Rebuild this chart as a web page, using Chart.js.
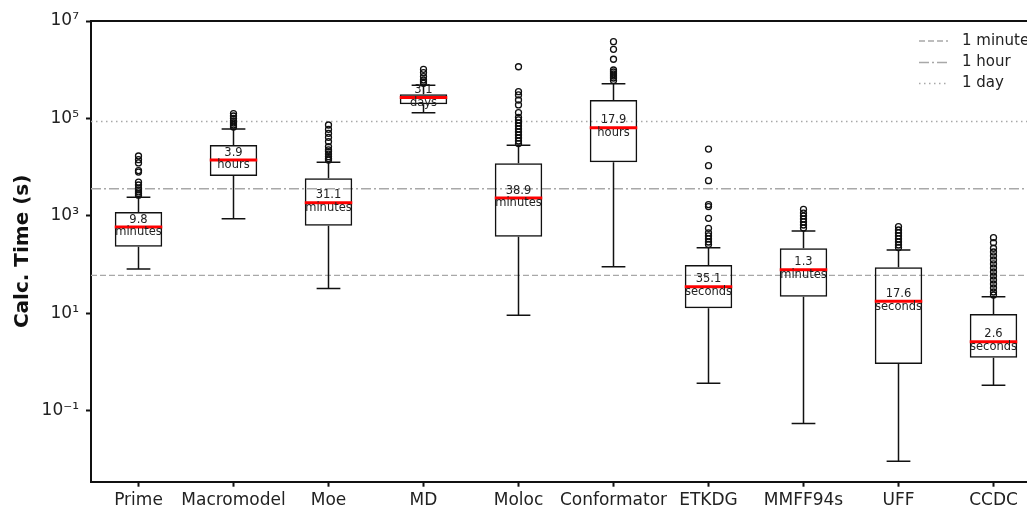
<!DOCTYPE html>
<html>
<head>
<meta charset="utf-8">
<script src="https://cdn.jsdelivr.net/npm/chart.js@4.4.0/dist/chart.umd.min.js"></script>
<style>
  html, body { margin: 0; padding: 0; background: #fff; overflow: hidden; }
  #wrap { position: relative; width: 1060px; height: 508px; }
</style>
</head>
<body>
<div id="wrap"><canvas id="myChart"></canvas></div>
<script>
// box plot data (seconds)
const methods = ['Prime', 'Macromodel', 'Moe', 'MD', 'Moloc', 'Conformator', 'ETKDG', 'MMFF94s', 'UFF', 'CCDC']
const q1 = [232, 6560, 627, 195000, 372, 12550, 12.6, 21.8, 0.905, 1.22]
const q3 = [1197, 28400, 5890, 312000, 11970, 239000, 97.7, 215, 87.6, 9.64]
const medians = [588, 14040, 1866, 267840, 2334, 64440, 35.1, 78, 17.6, 2.6]
const whiskerLow = [81, 873, 32.4, 131000, 9.06, 90, 0.364, 0.0548, 0.0092, 0.331]
const whiskerHigh = [2400, 60600, 12550, 478000, 28000, 516000, 221, 488, 199, 21.8]
const medianValue = ['9.8', '3.9', '31.1', '3.1', '38.9', '17.9', '35.1', '1.3', '17.6', '2.6']
const medianUnit = ['minutes', 'hours', 'minutes', 'days', 'minutes', 'hours', 'seconds', 'minutes', 'seconds', 'seconds']

const primeOut = [16900, 14200, 12200, 8500, 7900, 4900, 4300, 3700, 3400, 3100, 2850, 2650]
const macroOut = [126000, 112000, 99600, 88500, 80500, 73200, 66700]
const moeOut = [73300, 59800, 49500, 41000, 33300, 26300, 22500, 20700, 18500, 16400, 15000, 14000]
const mdOut = [1020000, 869000, 719000, 615000, 560000, 526000]
const molocOut = [1150000, 354000, 303000, 239000, 189000, 131000, 105000, 92900, 80600, 69900, 60600, 52600, 45700, 39600, 34400, 30500]
const conformatorOut = [3760000, 2620000, 1640000, 986000, 897000, 816000, 743000, 676000, 600000]
const etkdgOut = [23500, 10700, 5260, 1700, 1550, 890, 553, 445, 386, 335, 290, 258]
const mmffOut = [1360, 1140, 993, 861, 748, 649, 563]
const uffOut = [598, 512, 445, 386, 335, 290, 252, 224]
const ccdcOut = [356, 281, 216, 181, 150, 124, 103, 85, 70.3, 58.2, 48.2, 39.9, 33.0, 27.3, 23.7]
const outliers = [primeOut, macroOut, moeOut, mdOut, molocOut, conformatorOut, etkdgOut, mmffOut, uffOut, ccdcOut]

const refLabels = ['1 minute', '1 hour', '1 day']
const refValues = [60, 3600, 86400]
const refDash = [[6, 3], [10, 3, 2, 3], [1.5, 3.5]]

const yTicks = [1e-1, 1e1, 1e3, 1e5, 1e7]
const yTickLabels = ['10⁻¹', '10¹', '10³', '10⁵', '10⁷']

Chart.defaults.font.family = 'DejaVu Sans'
Chart.defaults.color = '#222'

const boxParts = {
  id: 'boxParts',
  afterDatasetsDraw(chart) {
    const { ctx, scales: { x, y } } = chart
    const capHalf = x.getPixelForValue(1.125) - x.getPixelForValue(1)
    const boxHalf = x.getPixelForValue(1.25) - x.getPixelForValue(1)
    ctx.save()
    methods.forEach((m, i) => {
      const cx = x.getPixelForValue(i + 1)
      // whiskers and caps
      ctx.strokeStyle = '#111'
      ctx.lineWidth = 1.5
      ctx.beginPath()
      ctx.moveTo(cx, y.getPixelForValue(q3[i]))
      ctx.lineTo(cx, y.getPixelForValue(whiskerHigh[i]))
      ctx.moveTo(cx, y.getPixelForValue(q1[i]))
      ctx.lineTo(cx, y.getPixelForValue(whiskerLow[i]))
      const yh = y.getPixelForValue(whiskerHigh[i])
      const yl = y.getPixelForValue(whiskerLow[i])
      ctx.moveTo(cx - capHalf, yh)
      ctx.lineTo(cx + capHalf, yh)
      ctx.moveTo(cx - capHalf, yl)
      ctx.lineTo(cx + capHalf, yl)
      ctx.stroke()
      // median
      const ym = y.getPixelForValue(medians[i])
      ctx.strokeStyle = '#ff0000'
      ctx.lineWidth = 3
      ctx.beginPath()
      ctx.moveTo(cx - boxHalf, ym)
      ctx.lineTo(cx + boxHalf, ym)
      ctx.stroke()
      // median label
      ctx.fillStyle = '#222'
      ctx.font = '11.5px "DejaVu Sans"'
      ctx.textAlign = 'center'
      ctx.textBaseline = 'alphabetic'
      ctx.fillText(medianValue[i], cx, ym - 4.3)
      ctx.fillText(medianUnit[i], cx, ym + 8.4)
    })
    ctx.restore()
  },
  afterDraw(chart) {
    const { ctx, chartArea } = chart
    ctx.save()
    // top and right spines
    ctx.strokeStyle = '#111'
    ctx.lineWidth = 2
    ctx.beginPath()
    ctx.moveTo(chartArea.left - 1, chartArea.top)
    ctx.lineTo(chartArea.right, chartArea.top)
    ctx.lineTo(chartArea.right, chartArea.bottom)
    ctx.stroke()
    // legend for the reference lines
    const rows = [41, 62.5, 83.5]
    refLabels.forEach((lab, i) => {
      const ds = chart.data.datasets[2 + i]
      ctx.strokeStyle = ds.borderColor
      ctx.lineWidth = ds.borderWidth
      ctx.setLineDash(ds.borderDash)
      ctx.beginPath()
      ctx.moveTo(919, rows[i])
      ctx.lineTo(948, rows[i])
      ctx.stroke()
      ctx.setLineDash([])
      ctx.fillStyle = '#222'
      ctx.font = '15px "DejaVu Sans"'
      ctx.textAlign = 'left'
      ctx.textBaseline = 'middle'
      ctx.fillText(lab, 962, rows[i])
    })
    ctx.restore()
  }
}

const outlierPoints = []
outliers.forEach((list, i) => list.forEach(v => outlierPoints.push({ x: i + 1, y: v })))

const refDatasets = refLabels.map((lab, i) => ({
  type: 'line',
  label: lab,
  data: [{ x: 0.5, y: refValues[i] }, { x: 10.5, y: refValues[i] }],
  borderColor: '#a8a8a8',
  borderWidth: 1.4,
  borderDash: refDash[i],
  pointRadius: 0,
  order: 3
}))

const config = {
  type: 'bar',
  data: {
    datasets: [
      {
        type: 'bar',
        label: 'box',
        data: methods.map((m, i) => ({ x: i + 1, y: [q1[i], q3[i]] })),
        backgroundColor: 'rgba(0,0,0,0)',
        borderColor: '#111',
        borderWidth: 1.5,
        borderSkipped: false,
        barPercentage: 1,
        categoryPercentage: 0.5,
        order: 1
      },
      {
        type: 'scatter',
        label: 'outliers',
        data: outlierPoints,
        pointStyle: 'circle',
        pointRadius: 3,
        pointBorderWidth: 1.3,
        pointBackgroundColor: 'rgba(255,255,255,0)',
        pointBorderColor: '#111',
        order: 0
      },
      ...refDatasets
    ]
  },
  options: {
    responsive: true,
    maintainAspectRatio: false,
    animation: false,
    layout: { padding: { top: 21, right: 19, bottom: 0, left: 0 } },
    plugins: { legend: { display: false }, tooltip: { enabled: false } },
    scales: {
      x: {
        type: 'linear',
        min: 0.5,
        max: 10.5,
        bounds: 'data',
        offset: false,
        afterBuildTicks: s => { s.ticks = methods.map((m, i) => ({ value: i + 1 })) },
        afterFit: s => { s.height = 26.3 },
        ticks: {
          autoSkip: false,
          maxRotation: 0,
          padding: 3.6,
          color: '#222',
          font: { size: 17 },
          callback: v => methods[v - 1]
        },
        grid: { offset: false, drawOnChartArea: false, drawTicks: true, tickLength: 5, tickWidth: 2, tickColor: '#111' },
        border: { display: true, color: '#111', width: 2 }
      },
      y: {
        type: 'logarithmic',
        min: 0.00348,
        max: 1e7,
        bounds: 'data',
        afterBuildTicks: s => { s.ticks = yTicks.map(v => ({ value: v })) },
        afterFit: s => { s.width = 91 },
        ticks: {
          padding: 7,
          color: '#222',
          font: { size: 17 },
          callback: v => { const k = yTicks.indexOf(v); return k >= 0 ? yTickLabels[k] : '' }
        },
        grid: { drawOnChartArea: false, drawTicks: true, tickLength: 5, tickWidth: 2, tickColor: '#111' },
        border: { display: true, color: '#111', width: 2 },
        title: {
          display: true,
          text: 'Calc. Time (s)',
          color: '#111',
          font: { size: 20, weight: 'bold' },
          padding: { top: 11, bottom: 0 }
        }
      }
    }
  },
  plugins: [boxParts]
}

const myChart = new Chart(document.getElementById('myChart'), config)
</script>
</body>
</html>
